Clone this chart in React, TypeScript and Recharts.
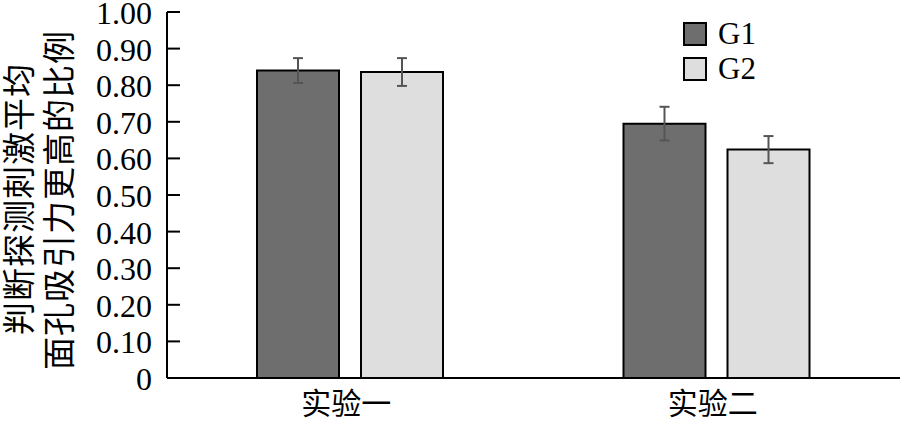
import { BarChart, Bar, XAxis, YAxis, ErrorBar } from 'recharts';

const CATEGORIES = ['实验一', '实验二'];
const G1_VALUES = [0.84, 0.695];
const G1_ERRORS = [0.034, 0.046];
const G2_VALUES = [0.836, 0.624];
const G2_ERRORS = [0.038, 0.037];
const Y_TICKS = [0, 0.1, 0.2, 0.3, 0.4, 0.5, 0.6, 0.7, 0.8, 0.9, 1.0];

const SERIF = '"Liberation Serif", "Noto Sans CJK SC", serif';
const CJK = '"Noto Sans CJK SC", sans-serif';

const data = CATEGORIES.map((name, i) => ({
  name,
  g1: G1_VALUES[i],
  g1Err: G1_ERRORS[i],
  g2: G2_VALUES[i],
  g2Err: G2_ERRORS[i],
}));

// y tick: short tick line pointing into the plot, label to the left
function YTick(props: any) {
  const { x, y, payload } = props;
  const label = payload.value === 0 ? '0' : payload.value.toFixed(2);
  return (
    <g>
      <line x1={x} x2={x + 13} y1={y} y2={y} stroke="#000" strokeWidth={2} />
      <text
        x={x - 15}
        y={y + 1}
        textAnchor="end"
        dominantBaseline="central"
        fontFamily={SERIF}
        fontSize={32}
        fill="#000"
      >
        {label}
      </text>
    </g>
  );
}

function XTick(props: any) {
  const { x, y, payload } = props;
  return (
    <text
      x={x - 4}
      y={y + 15}
      textAnchor="middle"
      dominantBaseline="central"
      fontFamily={CJK}
      fontSize={30}
      fill="#000"
    >
      {payload.value}
    </text>
  );
}

const LEGEND = [
  { label: 'G1', color: '#6e6e6e', top: 22 },
  { label: 'G2', color: '#dedede', top: 57 },
];

const titleStyle = {
  position: 'absolute' as const,
  transform: 'translate(-50%, -50%) rotate(-90deg)',
  whiteSpace: 'nowrap' as const,
  fontFamily: CJK,
  fontSize: 33,
  letterSpacing: 1,
  lineHeight: 1,
};

export default function App() {
  return (
    <div style={{ position: 'absolute', left: 0, top: 0, width: 900, height: 424, background: '#fff' }}>
      <BarChart
        width={900}
        height={424}
        data={data}
        margin={{ top: 12, right: 0, left: 0, bottom: 0 }}
        barCategoryGap={90}
        barGap={22}
      >
        <XAxis
          dataKey="name"
          height={46}
          axisLine={{ stroke: '#000', strokeWidth: 2 }}
          tickLine={false}
          tick={<XTick />}
        />
        <YAxis
          width={167}
          domain={[0, 1]}
          ticks={Y_TICKS}
          interval={0}
          tickSize={0}
          tickMargin={0}
          tickLine={false}
          axisLine={{ stroke: '#000', strokeWidth: 2 }}
          tick={<YTick />}
        />
        <Bar dataKey="g1" fill="#6e6e6e" stroke="#000" strokeWidth={2} isAnimationActive={false}>
          <ErrorBar dataKey="g1Err" width={5} stroke="#555" strokeWidth={2} />
        </Bar>
        <Bar dataKey="g2" fill="#dedede" stroke="#000" strokeWidth={2} isAnimationActive={false}>
          <ErrorBar dataKey="g2Err" width={5} stroke="#555" strokeWidth={2} />
        </Bar>
      </BarChart>

      {/* y axis title, two rotated lines */}
      <div style={{ ...titleStyle, left: 17, top: 199 }}>判断探测刺激平均</div>
      <div style={{ ...titleStyle, left: 57, top: 200 }}>面孔吸引力更高的比例</div>

      {LEGEND.map((item) => (
        <div key={item.label} style={{ position: 'absolute', left: 683, top: item.top, display: 'flex', alignItems: 'center' }}>
          <div style={{ width: 20, height: 20, background: item.color, border: '2px solid #000' }} />
          <span style={{ marginLeft: 11, fontFamily: SERIF, fontSize: 31, lineHeight: '24px' }}>{item.label}</span>
        </div>
      ))}
    </div>
  );
}
